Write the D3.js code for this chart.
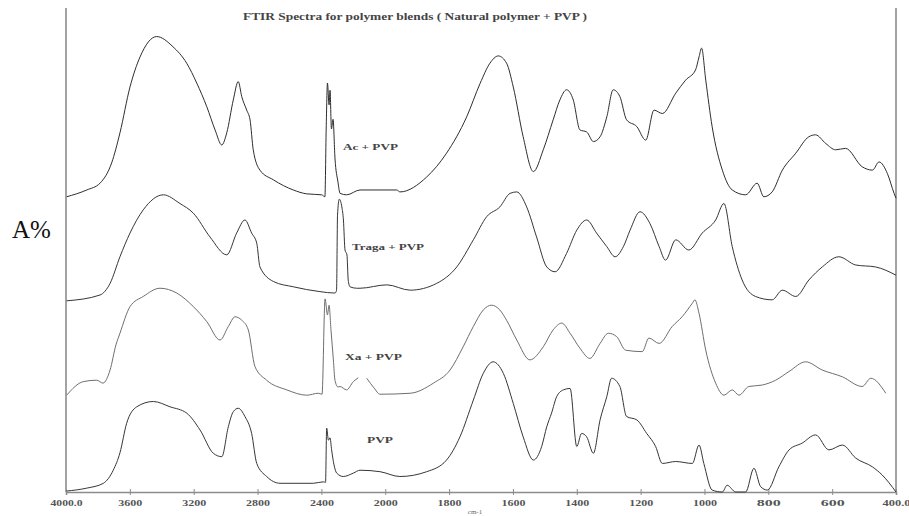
<!DOCTYPE html>
<html>
<head>
<meta charset="utf-8">
<script src="https://cdn.jsdelivr.net/npm/d3@7"></script>
<style>
  html, body { margin: 0; padding: 0; background: #fff; }
  svg { display: block; }
</style>
</head>
<body>
<svg id="chart" width="909" height="516"></svg>
<script>
// ---------- DATA (wavenumber cm-1, A% on stacked scale) ----------
const tickValues = [4000, 3600, 3200, 2800, 2400, 2000, 1800, 1600, 1400, 1200, 1000, 800, 600, 400];
const tickLabels = ["4000.0", "3600", "3200", "2800", "2400", "2000", "1800", "1600", "1400", "1200", "1000", "800", "600", "400.0"];
const seriesNames = ["Ac + PVP", "Traga + PVP", "Xa + PVP", "PVP"];

const acPVP = [
  [3996,61.0],[3870,62.4],[3787,63.8],[3714,68.0],[3662,74.2],[3599,83.7],[3536,89.9],[3432,94.1],
  [3330,92.0],[3244,88.6],[3181,84.5],[3118,79.6],[3066,74.8],[3024,71.7],[2993,74.2],[2952,81.0],
  [2921,84.8],[2899,81.7],[2868,78.9],[2847,76.9],[2827,70.7],[2785,66.5],[2701,64.5],[2576,62.4],
  [2492,61.6],[2398,61.4],[2378,61.0],[2370,75.0],[2362,84.5],[2352,80.0],[2346,83.0],[2337,75.0],
  [2327,77.0],[2315,69.0],[2296,64.0],[2283,61.7],[2242,61.4],[2158,62.4],[1964,62.4],[1954,62.0],
  [1870,65.1],[1808,70.0],[1745,77.5],[1703,84.4],[1672,88.6],[1646,90.1],[1620,88.6],[1599,83.7],
  [1568,73.4],[1536,66.2],[1505,70.7],[1474,76.9],[1453,81.0],[1432,83.1],[1411,81.0],[1390,74.8],
  [1369,74.4],[1348,72.4],[1327,73.4],[1306,77.5],[1286,83.1],[1265,81.7],[1244,76.9],[1212,75.5],
  [1184,72.7],[1158,78.9],[1132,78.2],[1090,82.4],[1059,85.1],[1028,87.2],[1017,89.9],[1009,91.7],
  [996,85.1],[976,75.5],[944,66.5],[913,62.4],[871,61.4],[835,63.8],[814,61.0],[788,62.0],
  [756,66.5],[714,70.0],[673,73.4],[652,73.8],[620,72.0],[589,70.7],[558,71.0],[506,67.2],
  [474,66.5],[453,68.2],[427,65.8],[406,61.7],[400,60.7]
];

const tragaPVP = [
  [3996,39.5],[3787,40.7],[3724,43.1],[3662,48.6],[3599,53.5],[3516,58.3],[3390,61.4],[3286,59.6],
  [3202,57.6],[3098,52.7],[2993,49.0],[2931,53.5],[2879,56.2],[2837,53.5],[2805,51.4],[2785,46.5],
  [2701,43.5],[2576,42.4],[2409,41.4],[2315,41.1],[2305,41.7],[2299,57.2],[2288,60.5],[2272,58.9],
  [2262,56.2],[2252,50.0],[2240,49.0],[2232,43.8],[2221,42.4],[2179,42.1],[2158,42.1],[1995,42.8],
  [1922,41.7],[1839,43.1],[1776,46.5],[1724,52.1],[1682,56.9],[1641,58.9],[1609,61.7],[1588,62.0],
  [1557,58.9],[1526,52.7],[1494,46.5],[1468,45.5],[1432,49.3],[1400,54.1],[1369,56.2],[1338,53.5],
  [1306,50.7],[1280,48.6],[1254,50.7],[1233,54.1],[1202,57.9],[1171,55.5],[1142,50.7],[1122,47.9],
  [1090,52.1],[1049,50.0],[1007,53.5],[965,56.2],[939,59.6],[913,50.7],[882,43.8],[840,40.4],
  [788,39.7],[756,41.7],[714,40.4],[673,43.8],[631,46.5],[579,48.6],[526,46.9],[464,46.5],[400,44.8]
];

const xaPVP = [
  [3996,20.0],[3892,22.8],[3808,23.1],[3768,22.5],[3724,25.2],[3687,30.4],[3662,32.8],[3599,38.3],
  [3516,40.4],[3411,42.1],[3306,41.1],[3202,38.3],[3118,35.2],[3035,31.4],[2983,34.2],[2941,36.2],
  [2899,35.5],[2858,33.5],[2816,25.9],[2743,23.1],[2617,21.1],[2492,20.0],[2419,20.4],[2396,20.2],
  [2377,39.9],[2362,36.6],[2352,38.6],[2340,33.5],[2325,27.3],[2315,23.1],[2296,21.7],[2284,21.8],
  [2242,21.1],[2200,22.8],[2169,23.6],[2140,null],[2116,23.5],[2070,21.5],[2033,20.2],[1922,20.4],
  [1849,22.5],[1797,25.2],[1756,30.0],[1724,34.2],[1693,37.6],[1667,38.6],[1641,37.6],[1620,35.5],
  [1588,31.4],[1547,27.3],[1505,30.0],[1474,33.5],[1447,34.9],[1421,32.8],[1390,29.7],[1359,27.6],
  [1327,30.7],[1301,32.8],[1275,32.1],[1247,29.3],[1195,29.0],[1174,31.8],[1142,30.7],[1101,34.2],
  [1070,36.2],[1038,39.0],[1030,39.7],[1017,36.9],[996,29.3],[965,22.5],[939,20.0],[913,21.1],
  [892,20.0],[861,21.8],[819,22.1],[777,23.1],[735,24.9],[683,26.9],[631,25.2],[568,23.8],
  [506,21.8],[479,23.5],[432,20.4]
];

const pvp = [
  [3996,0.2],[3870,0.8],[3766,1.8],[3704,4.5],[3662,8.1],[3620,14.2],[3557,17.6],[3453,18.7],
  [3348,17.6],[3244,16.3],[3160,12.8],[3077,8.0],[3024,7.3],[2983,13.5],[2952,16.6],[2921,17.3],
  [2879,15.6],[2837,12.1],[2805,5.9],[2743,3.2],[2659,1.8],[2451,1.8],[2388,2.1],[2374,2.0],
  [2367,13.2],[2356,10.7],[2346,11.2],[2336,8.7],[2321,5.6],[2304,3.9],[2263,3.2],[2200,3.9],
  [2158,4.5],[2033,4.2],[1954,3.2],[1870,4.2],[1808,6.6],[1766,11.4],[1724,19.0],[1693,24.5],
  [1662,26.9],[1630,24.5],[1599,18.3],[1568,11.4],[1536,6.6],[1510,9.4],[1494,13.5],[1479,16.3],
  [1463,19.7],[1442,21.1],[1421,21.4],[1400,9.4],[1385,12.1],[1369,11.4],[1348,8.0],[1327,14.9],
  [1306,19.7],[1291,23.5],[1265,21.8],[1244,15.6],[1212,14.9],[1181,12.1],[1153,9.4],[1132,5.9],
  [1090,6.3],[1038,5.9],[1017,9.7],[1002,5.9],[976,0.4],[944,0.0],[929,1.4],[902,0.0],
  [871,0.0],[845,4.9],[824,1.1],[803,0.4],[767,5.2],[735,8.7],[694,10.1],[652,11.8],
  [610,8.7],[568,9.7],[526,7.0],[474,5.2],[443,3.5],[400,0.0]
];

// label anchors (wavenumber, A%) for the curve names
const labelAnchors = [[2265,70.7],[2208,50.0],[2252,27.3],[2114,10.1]];
const labelWidths = [55, 72, 57, 26];

// ---------- DRAWING ----------
const svg = d3.select("#chart");
const x = d3.scaleLinear().domain([4000, 2000, 400]).range([66, 385.25, 896]);
const y = d3.scaleLinear().domain([0, 100]).range([492, 8]);

const axisColor = "#8c8c8c";

// frame lines (left & right)
svg.append("line").attr("x1", x(4000)).attr("x2", x(4000)).attr("y1", y(100)).attr("y2", y(0))
  .attr("stroke", axisColor).attr("stroke-width", 1.6);
svg.append("line").attr("x1", x(400)).attr("x2", x(400)).attr("y1", y(100)).attr("y2", y(0))
  .attr("stroke", axisColor).attr("stroke-width", 1.6);

// x axis
const xAxis = d3.axisBottom(x)
  .tickValues(tickValues)
  .tickFormat((d, i) => tickLabels[i])
  .tickSize(3);
const gx = svg.append("g").attr("transform", `translate(0,${y(0)})`).call(xAxis);
gx.select(".domain").attr("stroke", axisColor).attr("stroke-width", 1.6);
gx.selectAll(".tick line").attr("stroke", axisColor).attr("y1", -3).attr("y2", 3);
gx.selectAll(".tick text")
  .attr("y", 8)
  .attr("fill", "#555")
  .style("font-family", "'Liberation Serif', 'Times New Roman', serif")
  .style("font-size", "8.5px")
  .style("font-weight", "bold")
  .attr("textLength", (d, i) => tickLabels[i].length >= 5 ? (tickLabels[i].length === 6 ? 32 : 28) : 24)
  .attr("lengthAdjust", "spacingAndGlyphs");

// x axis unit
svg.append("text").attr("x", 475).attr("y", 514).attr("text-anchor", "middle")
  .attr("fill", "#666").style("font-family", "'Liberation Serif', serif").style("font-size", "7px")
  .text("cm-1");

// y label
svg.append("text").attr("x", 12).attr("y", 238)
  .style("font-family", "'Liberation Serif', 'Times New Roman', serif").style("font-size", "25px")
  .attr("fill", "#111").text("A%");

// title
svg.append("text").attr("x", 243).attr("y", 20)
  .style("font-family", "'Liberation Serif', 'Times New Roman', serif").style("font-size", "9.5px")
  .style("font-weight", "bold").attr("fill", "#444")
  .attr("textLength", 344).attr("lengthAdjust", "spacingAndGlyphs")
  .text("FTIR Spectra for  polymer blends ( Natural polymer + PVP )");

// curves
const line = d3.line()
  .defined(d => d[1] !== null)
  .curve(d3.curveMonotoneX)
  .x(d => x(d[0]))
  .y(d => y(d[1]));

const seriesData = [acPVP, tragaPVP, xaPVP, pvp];
const seriesColors = ["#2e2e2e", "#363636", "#6e6e6e", "#363636"];
svg.selectAll("path.spec").data(seriesData).enter().append("path")
  .attr("class", "spec")
  .attr("d", line)
  .attr("fill", "none")
  .attr("stroke", (d, i) => seriesColors[i])
  .attr("stroke-width", 1)
  .attr("stroke-linejoin", "round");

// curve labels
svg.selectAll("text.lbl").data(seriesNames).enter().append("text")
  .attr("class", "lbl")
  .attr("x", (d, i) => x(labelAnchors[i][0]))
  .attr("y", (d, i) => y(labelAnchors[i][1]))
  .style("font-family", "'Liberation Serif', 'Times New Roman', serif")
  .style("font-size", "9px").style("font-weight", "bold")
  .attr("fill", "#444")
  .attr("textLength", (d, i) => labelWidths[i])
  .attr("lengthAdjust", "spacingAndGlyphs")
  .text(d => d);
</script>
</body>
</html>
